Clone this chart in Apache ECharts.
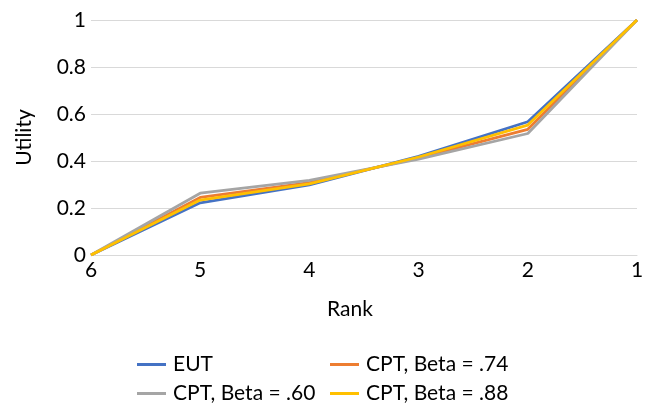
<!DOCTYPE html>
<html>
<head>
<meta charset="utf-8">
<script src="https://cdn.jsdelivr.net/npm/echarts@6/dist/echarts.min.js"></script>
<style>html,body{margin:0;padding:0;background:#fff}#c{width:650px;height:404px}</style>
</head>
<body>
<div id="c"></div>
<script>
const ranks = ['6', '5', '4', '3', '2', '1'];
const eut = [0, 0.222, 0.298, 0.42, 0.567, 1];
const cpt74 = [0, 0.245, 0.308, 0.413, 0.535, 1];
const cpt60 = [0, 0.263, 0.318, 0.408, 0.517, 1];
const cpt88 = [0, 0.234, 0.303, 0.417, 0.553, 1];
const names = ['EUT', 'CPT, Beta = .74', 'CPT, Beta = .60', 'CPT, Beta = .88'];
const colors = ['#4472C4', '#ED7D31', '#A5A5A5', '#FFC000'];
const seriesData = [eut, cpt74, cpt60, cpt88];

const font = 'Lato, "Open Sans", sans-serif';
const fs = 21;
const chart = echarts.init(document.getElementById('c'));
const legendPos = [[137, 354], [330, 354], [137, 383], [330, 383]];
chart.setOption({
  animation: false,
  textStyle: { fontFamily: font },
  grid: { left: 91, right: 13, top: 20, bottom: 149 },
  xAxis: {
    type: 'category', data: ranks, boundaryGap: false,
    axisLine: { lineStyle: { color: '#D9D9D9', width: 1 } },
    axisTick: { show: false },
    axisLabel: { color: '#000', fontSize: fs, margin: 5, fontFamily: font },
    name: 'Rank', nameLocation: 'middle', nameGap: 44,
    nameTextStyle: { color: '#000', fontSize: fs, fontFamily: font, padding: [0, 28, 0, 0] }
  },
  yAxis: {
    type: 'value', min: 0, max: 1, interval: 0.2,
    axisLine: { show: false }, axisTick: { show: false },
    splitLine: { lineStyle: { color: '#D9D9D9', width: 1 } },
    axisLabel: { color: '#000', fontSize: fs, margin: 5, fontFamily: font },
    name: 'Utility', nameLocation: 'middle', nameGap: 56, nameRotate: 90,
    nameTextStyle: { color: '#000', fontSize: fs, fontFamily: font }
  },
  legend: names.map((n, i) => ({
    data: [{ name: n, icon: 'rect' }], left: legendPos[i][0], top: legendPos[i][1],
    itemWidth: 29, itemHeight: 3, itemGap: 0, padding: 0,
    textStyle: { color: '#000', fontSize: fs, fontFamily: font, padding: [0, 0, 0, 2] }
  })),
  series: seriesData.map((d, i) => ({
    name: names[i], type: 'line', data: d, symbol: 'none',
    lineStyle: { color: colors[i], width: 2.8 }, itemStyle: { color: colors[i] },
    z: 2 + i
  }))
});
</script>
</body>
</html>
